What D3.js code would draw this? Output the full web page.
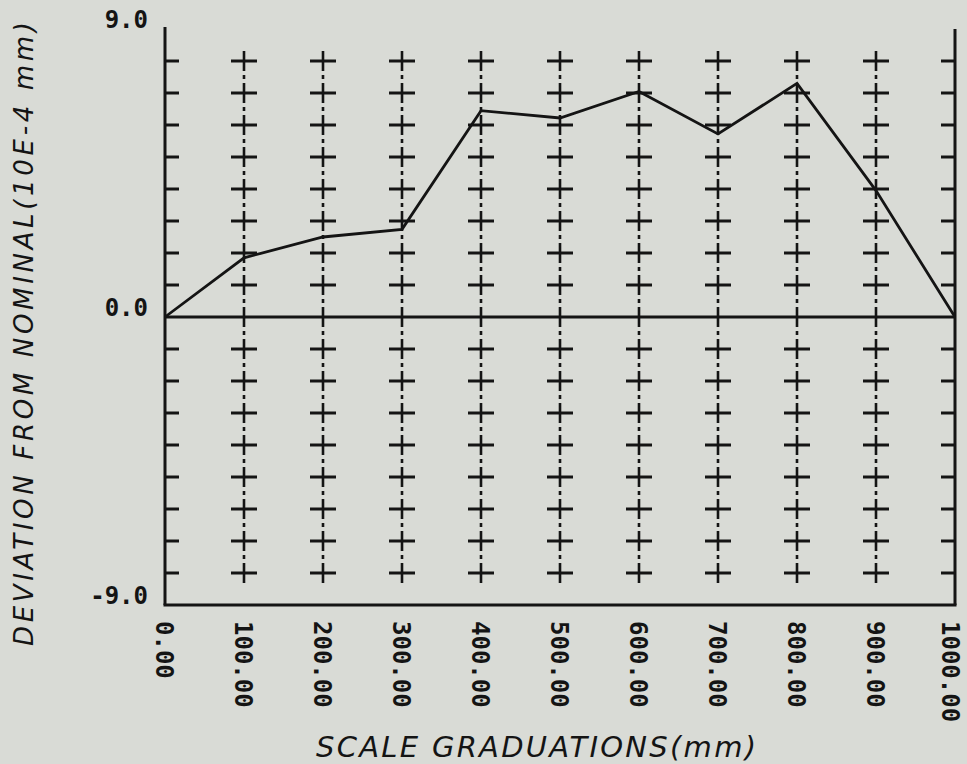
<!DOCTYPE html>
<html><head><meta charset="utf-8">
<script src="https://cdn.jsdelivr.net/npm/d3@7"></script>
<style>
html,body{margin:0;padding:0;background:#d9dbd6;}
svg{display:block;}
</style></head>
<body>
<svg id="chart" width="967" height="764"></svg>
<script>
// ---- data ----
const positions = [0,100,200,300,400,500,600,700,800,900,1000];
const deviations = [0,1.85,2.5,2.74,6.45,6.22,7.05,5.72,7.3,3.95,0];
const xTickLabels = ["0.00","100.00","200.00","300.00","400.00","500.00","600.00","700.00","800.00","900.00","1000.00"];
const yTickLabels = [{v:9,t:"9.0"},{v:0,t:"0.0"},{v:-9,t:"-9.0"}];
const yGridLevels = [-8,-7,-6,-5,-4,-3,-2,-1,1,2,3,4,5,6,7,8];
const gridColumns = [100,200,300,400,500,600,700,800,900];
const xTitle = "SCALE GRADUATIONS(mm)";
const yTitle = "DEVIATION FROM NOMINAL(10E-4 mm)";

const ink = "#141414";
const svg = d3.select("#chart");
svg.append("rect").attr("width",967).attr("height",764).attr("fill","#d9dbd6");

const x = d3.scaleLinear().domain([0,1000]).range([165,955]);
const y = d3.scaleLinear().domain([-9,9]).range([605,29]);

const g = svg.append("g").attr("stroke",ink).attr("fill","none").attr("stroke-linecap","butt");

// grid columns (dashed vertical + plus marks)
gridColumns.forEach(c => {
  g.append("line")
    .attr("x1",x(c)).attr("x2",x(c))
    .attr("y1",y(8)-10).attr("y2",y(-8)+10)
    .attr("stroke-width",2.6)
    .attr("stroke-dasharray","20,4,4,4");
  yGridLevels.forEach(l => {
    g.append("line")
      .attr("x1",x(c)-13).attr("x2",x(c)+13)
      .attr("y1",y(l)).attr("y2",y(l))
      .attr("stroke-width",3);
  });
});

// axes frame
g.append("line").attr("x1",x(0)).attr("x2",x(0)).attr("y1",y(9)-2).attr("y2",y(-9)).attr("stroke-width",3);
g.append("line").attr("x1",x(1000)).attr("x2",x(1000)).attr("y1",y(9)).attr("y2",y(-9)).attr("stroke-width",3);
g.append("line").attr("x1",x(0)-1.5).attr("x2",x(1000)+1.5).attr("y1",y(-9)).attr("y2",y(-9)).attr("stroke-width",3);
// zero line
g.append("line").attr("x1",x(0)).attr("x2",x(1000)).attr("y1",y(0)).attr("y2",y(0)).attr("stroke-width",3);

// y ticks inward on both sides
yGridLevels.forEach(l => {
  g.append("line").attr("x1",x(0)).attr("x2",x(0)+14).attr("y1",y(l)).attr("y2",y(l)).attr("stroke-width",3);
  g.append("line").attr("x1",x(1000)-14).attr("x2",x(1000)).attr("y1",y(l)).attr("y2",y(l)).attr("stroke-width",3);
});

// data line
const line = d3.line().x((d,i)=>x(positions[i])).y(d=>y(d));
g.append("path").datum(deviations).attr("d",line).attr("stroke-width",2.8).attr("stroke-linejoin","miter");

// y tick labels
const mono = "'DejaVu Sans Mono', monospace";
svg.append("g").selectAll("text").data(yTickLabels).join("text")
  .attr("x",148).attr("y",d=>y(d.v)-1)
  .attr("text-anchor","end")
  .attr("font-family",mono).attr("font-weight","bold").attr("font-size",24)
  .attr("fill",ink).text(d=>d.t);

// x tick labels (rotated, reading downward)
svg.append("g").selectAll("text").data(positions).join("text")
  .attr("transform",(d)=>`translate(${Math.min(x(d)-9, 967-25)},${621})rotate(90)`)
  .attr("text-anchor","start")
  .attr("font-family",mono).attr("font-weight","bold").attr("font-size",24)
  .attr("fill",ink).text((d,i)=>xTickLabels[i]);

// titles
svg.append("text")
  .attr("x",316).attr("y",757)
  .attr("textLength",440).attr("lengthAdjust","spacing")
  .attr("font-family","'DejaVu Sans', sans-serif").attr("font-style","italic")
  .attr("font-size",29).attr("fill",ink).text(xTitle);

svg.append("text")
  .attr("transform","translate(33,646)rotate(-90)")
  .attr("textLength",624).attr("lengthAdjust","spacing")
  .attr("font-family","'DejaVu Sans', sans-serif").attr("font-style","italic")
  .attr("font-size",26).attr("fill",ink).text(yTitle);
</script>
</body></html>
